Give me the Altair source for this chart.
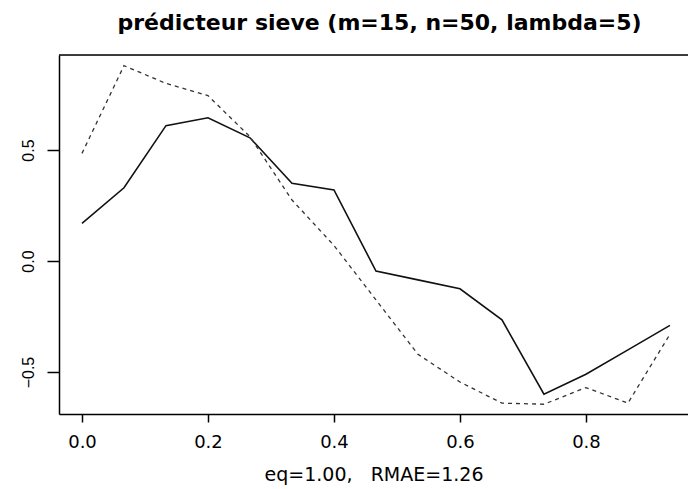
import altair as alt
import pandas as pd

# x positions: k/15, k = 0..14
x_vals = [k / 15 for k in range(15)]
solid_vals = [0.17, 0.33, 0.61, 0.645, 0.555, 0.35, 0.32, -0.045, -0.085,
              -0.125, -0.265, -0.60, -0.51, -0.40, -0.29]
dashed_vals = [0.485, 0.88, 0.80, 0.745, 0.56, 0.275, 0.07, -0.175, -0.42,
               -0.545, -0.64, -0.645, -0.57, -0.64, -0.33]
x_ticks = [0.0, 0.2, 0.4, 0.6, 0.8]
y_ticks = [-0.5, 0.0, 0.5]

title_text = "prédicteur sieve (m=15, n=50, lambda=5)"
xlabel_text = "eq=1.00,\u00a0\u00a0\u00a0RMAE=1.26"

df = pd.DataFrame({"x": x_vals, "solid": solid_vals, "dashed": dashed_vals})

xscale = alt.Scale(domain=[-0.0365, 0.962], nice=False, zero=False)
yscale = alt.Scale(domain=[-0.689, 0.928], nice=False, zero=False)

xaxis = alt.Axis(values=x_ticks, format=".1f", grid=False, domainColor="black",
                 domainWidth=1.5, tickColor="black", tickSize=8, tickWidth=1.5,
                 labelFont="DejaVu Sans", labelFontSize=18, labelColor="black",
                 labelBaseline="alphabetic", labelPadding=25,
                 title=xlabel_text, titleFont="DejaVu Sans", titleFontSize=19,
                 titleFontWeight="normal", titleColor="black",
                 titleBaseline="alphabetic", titleY=66)
yaxis = alt.Axis(values=y_ticks, format=".1f", grid=False, domainColor="black",
                 domainWidth=1.5, tickColor="black", tickSize=12, tickWidth=1.5,
                 labelFont="Liberation Sans", labelFontSize=16, labelColor="black",
                 labelAngle=270, labelAlign="center", labelBaseline="alphabetic",
                 labelPadding=14, title=None)

base = alt.Chart(df)

solid = base.mark_line(color="#111111", strokeWidth=1.6).encode(
    x=alt.X("x:Q", scale=xscale, axis=xaxis),
    y=alt.Y("solid:Q", scale=yscale, axis=yaxis),
)
dashed = base.mark_line(color="#333333", strokeWidth=1.3, strokeDash=[4, 4]).encode(
    x=alt.X("x:Q", scale=xscale),
    y=alt.Y("dashed:Q", scale=yscale),
)
top_frame = alt.Chart(pd.DataFrame({"a": [0]})).mark_rule(
    color="black", strokeWidth=1.5
).encode(y=alt.value(0), x=alt.value(0), x2=alt.value(629))

chart = alt.layer(solid, dashed, top_frame).properties(
    width=629,
    height=359,
    padding={"left": 59, "top": 55, "right": 0, "bottom": 75},
    autosize=alt.AutoSizeParams(type="none"),
    title=alt.TitleParams(title_text, font="DejaVu Sans", fontSize=22,
                          fontWeight="bold", color="black", anchor="middle",
                          frame="group", baseline="alphabetic", offset=2,
                          dx=6),
).configure_view(stroke=None).configure(background="white")

chart.save("out.html", embed_options={"renderer": "svg", "actions": False})
